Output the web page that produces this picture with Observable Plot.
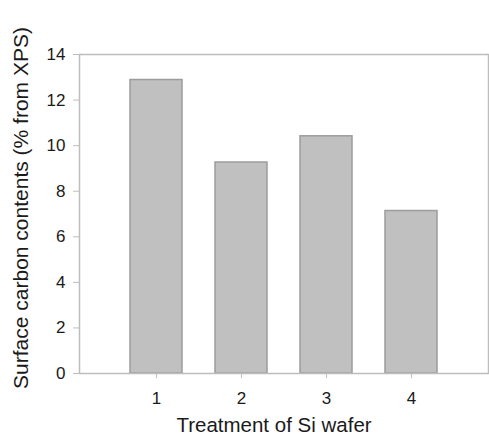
<!DOCTYPE html>
<html>
<head>
<meta charset="utf-8">
<script src="https://cdn.jsdelivr.net/npm/d3@7"></script>
<script src="https://cdn.jsdelivr.net/npm/@observablehq/plot@0.6"></script>
<style>
  html, body { margin: 0; padding: 0; background: #fff; }
  #chart svg { display: block; }
</style>
</head>
<body>
<div id="chart"></div>
<script>
const treatments = ["1", "2", "3", "4"];
const carbon = [12.88, 9.26, 10.41, 7.13];
const yTicks = [0, 2, 4, 6, 8, 10, 12, 14];
const xTitle = "Treatment of Si wafer";
const yTitle = "Surface carbon contents (% from XPS)";

const data = treatments.map((t, i) => ({t, c: carbon[i]}));

const chart = Plot.plot({
  width: 489,
  height: 435,
  marginLeft: 79,
  marginRight: 1,
  marginTop: 54,
  marginBottom: 62,
  style: {fontFamily: "'Liberation Sans', Arial, sans-serif", background: "#fff", color: "#1a1a1a", overflow: "visible"},
  x: {domain: treatments, paddingInner: 0.384, paddingOuter: 0.57, align: 0.5, label: null, axis: null},
  y: {domain: [0, 14], label: null, axis: null},
  marks: [
    Plot.barY(data, {x: "t", y: "c", fill: "#c0c0c0", stroke: "#9c9c9c", strokeWidth: 1.5}),
    Plot.frame({stroke: "#bdbdbd", strokeWidth: 1.5}),
    Plot.axisY({ticks: yTicks, tickSize: 6, tickPadding: 8, fontSize: 17, stroke: "#bdbdbd", fill: "#1a1a1a", label: null}),
    Plot.axisX({tickSize: 5, tickPadding: 13, fontSize: 17, stroke: "#bdbdbd", fill: "#1a1a1a", label: null}),
    Plot.text([xTitle], {frameAnchor: "bottom", textAnchor: "middle", dx: -10, dy: 52, lineAnchor: "middle", fontSize: 20.5, fill: "#1a1a1a"}),
    Plot.text([yTitle], {frameAnchor: "left", textAnchor: "middle", dx: -58, dy: -6, rotate: -90, lineAnchor: "middle", fontSize: 21, fill: "#1a1a1a"})
  ]
});
document.getElementById("chart").appendChild(chart);
</script>
</body>
</html>
